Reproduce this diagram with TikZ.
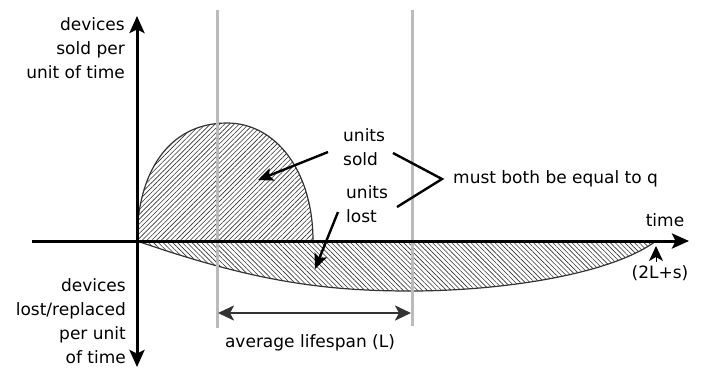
\documentclass[tikz,border=0pt]{standalone}
\usepackage{fontspec}
\setmainfont{DejaVu Sans}
\usetikzlibrary{arrows.meta,patterns.meta}
\definecolor{guidegray}{HTML}{BBBBBB}
\definecolor{inkgray}{HTML}{333333}
\begin{document}
\begin{tikzpicture}[x=1pt,y=-1pt,
  axisline/.style={line width=3pt,-{Stealth[length=17pt,width=15pt,inset=3.5pt]}},
  guide/.style={line width=3pt,draw=guidegray},
  lbl/.style={font=\fontsize{17}{24}\selectfont,inner sep=0pt},
  pointer/.style={line width=2.4pt,-{Stealth[length=15pt,width=13pt,inset=3pt]}},
  outline/.style={draw=inkgray,line width=1.2pt},
  soldfill/.style={pattern={Lines[angle=45,distance=3.4pt,line width=0.6pt]},pattern color=inkgray},
  lostfill/.style={pattern={Lines[angle=-45,distance=3.4pt,line width=0.6pt]},pattern color=inkgray}]
\useasboundingbox (0,0) rectangle (703,368);
% key points
\coordinate (O) at (137,241);
\coordinate (Ytop) at (137,16);
\coordinate (Ybot) at (137,367);
\coordinate (Xl) at (32,241);
\coordinate (Xr) at (689,241);
\coordinate (S) at (313,241);
\coordinate (E) at (656,241);
% areas
\path[soldfill] (O) .. controls (137,175) and (167,123) .. (227,123)
  .. controls (275,123) and (313,170) .. (S) -- cycle;
\path[lostfill] (O) .. controls (250,280) and (320,291) .. (410,291)
  .. controls (500,291) and (610,275) .. (E) -- cycle;
\draw[outline] (O) .. controls (137,175) and (167,123) .. (227,123)
  .. controls (275,123) and (313,170) .. (S);
\draw[outline] (O) .. controls (250,280) and (320,291) .. (410,291)
  .. controls (500,291) and (610,275) .. (E);
% guide lines
\coordinate (g1t) at (217,10); \coordinate (g1b) at (217,328);
\coordinate (g2t) at (412,10); \coordinate (g2b) at (412,326);
\draw[guide] (g1t) -- (g1b);
\draw[guide] (g2t) -- (g2b);
% axes
\draw[axisline] (O) -- (Ytop);
\draw[axisline] (O) -- (Ybot);
\draw[line width=3pt] (Xl) -- (O);
\draw[axisline] (O) -- (Xr);
% labels
\node[lbl,align=right,anchor=east] (ytop) at (125,48) {devices\\sold per\\unit of time};
\node[lbl,align=right,anchor=east] (ybot) at (126,321) {devices\\lost/replaced\\per unit\\of time};
\node[lbl,align=left,anchor=west] (sold) at (343,147) {units\\sold};
\node[lbl,align=left,anchor=west] (lost) at (346,204) {units\\lost};
\node[lbl,anchor=west] (must) at (453,179) {must both be equal to q};
\node[lbl] (time) at (665,220) {time};
\node[lbl] (end) at (660,273) {(2L+s)};
\node[lbl] (avg) at (310,343) {average lifespan (L)};
% pointers
\coordinate (soldfrom) at (328,152); \coordinate (soldtip) at (258,180);
\coordinate (lostfrom) at (338,212); \coordinate (losttip) at (315,269);
\draw[pointer] (soldfrom) -- (soldtip);
\draw[pointer] (lostfrom) -- (losttip);
% bracket
\coordinate (b1) at (393,153); \coordinate (b2) at (442,179); \coordinate (b3) at (397,207);
\draw[line width=2.4pt,line join=miter] (b1) -- (b2) -- (b3);
% end marker
\coordinate (endfrom) at (656,262); \coordinate (endtip) at (656,246);
\draw[line width=1pt,-{Stealth[length=15pt,width=14pt,inset=4pt]}] (endfrom) -- (endtip);
% lifespan
\coordinate (ls1) at (218,313); \coordinate (ls2) at (411,313);
\draw[line width=2.5pt,draw=inkgray,{Stealth[length=16pt,width=15pt,inset=4pt]}-{Stealth[length=16pt,width=15pt,inset=4pt]}] (ls1) -- (ls2);
\end{tikzpicture}
\end{document}
